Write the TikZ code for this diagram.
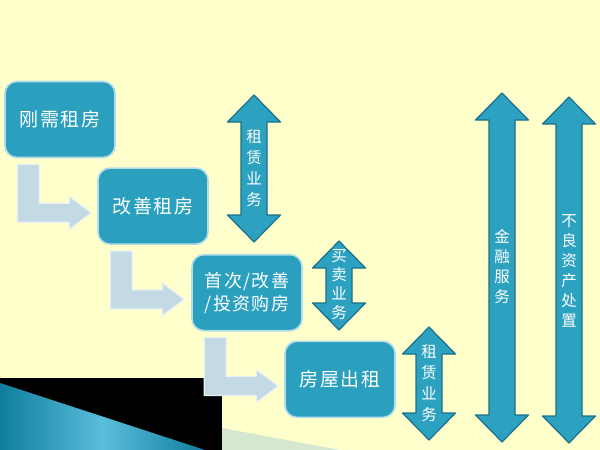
\documentclass[tikz,border=0pt]{standalone}
\usepackage{fontspec}
\setmainfont{Noto Sans CJK SC}
\newfontfamily\spacedcjk[LetterSpace=8]{Noto Sans CJK SC}
\usetikzlibrary{positioning,calc}
\definecolor{slidebg}{HTML}{FFFFCC}
\definecolor{boxteal}{HTML}{2AA0BE}
\definecolor{boxrim}{HTML}{B3DCEA}
\definecolor{bentfill}{HTML}{C3D9E3}
\definecolor{bentrim}{HTML}{E9F1F4}
\definecolor{dblfill}{HTML}{2CA2C0}
\definecolor{dblrim}{HTML}{1B708B}
\definecolor{wedgedark}{HTML}{0F7E9E}
\definecolor{wedgelight}{HTML}{5BBDDC}
\definecolor{stripgreen}{HTML}{D6E7D0}
\tikzset{
  stagebox/.style={
    draw=boxrim,
    line width=1.6pt,
    fill=boxteal,
    rounded corners=12pt,
    minimum width=110pt,
    minimum height=76pt,
    align=center,
    text=white,
    inner sep=2pt,
    font=\spacedcjk\fontsize{19}{24}\selectfont
  },
  bentarrow/.style={fill=bentfill, draw=bentrim, line width=1.2pt, line join=round},
  dblarrow/.style={fill=dblfill, draw=dblrim, line width=1.2pt, line join=round},
  dbllabel/.style={text=white, align=center, inner sep=0pt, font=\fontsize{15.5}{21}\selectfont}
}
% fat L-shaped step arrow hanging under a box
\newcommand{\bentstep}[1]{%
  \draw[bentarrow] ($(#1.south west)+(13,6)$) -- ++(22,0) -- ++(0,39) -- ++(30,0)
    -- ++(0,-7) -- ++(22,16.5) -- ++(-22,16.5) -- ++(0,-7) -- ++(-52,0) -- cycle;}
% vertical two-headed arrow: centre x, top, bottom
\newcommand{\twoway}[3]{%
  \draw[dblarrow] (#1,#2) -- (#1+26.5,#2+27) -- (#1+13,#2+27) -- (#1+13,#3-27)
    -- (#1+26.5,#3-27) -- (#1,#3) -- (#1-26.5,#3-27) -- (#1-13,#3-27)
    -- (#1-13,#2+27) -- (#1-26.5,#2+27) -- cycle;}

\begin{document}
\begin{tikzpicture}[x=1pt, y=-1pt, node distance=9pt]
\fill[slidebg] (0,0) rectangle (600,450);
\useasboundingbox (0,0) rectangle (600,450);

% slide corner decoration
\fill[black] (0,378) -- (222,378) -- (222,450) -- (0,450) -- cycle;
\shade[left color=wedgedark, right color=wedgedark, middle color=wedgelight] (0,383) -- (205,450) -- (0,450) -- cycle;
\fill[stripgreen] (222,428) -- (340,450) -- (222,450) -- cycle;

\node[stagebox] (rigid) at (60,119.5) {刚需租房};
\node[stagebox, below=of rigid, xshift=93pt] (better) {改善租房};
\node[stagebox, below=of better, xshift=94pt, font=\spacedcjk\fontsize{18}{23}\selectfont] (buy) {首次/改善\\/投资购房};
\node[stagebox, below=of buy, xshift=93pt] (letout) {房屋出租};

\bentstep{rigid}
\bentstep{better}
\bentstep{buy}

\twoway{254}{95}{242}
\twoway{339}{241}{330}
\twoway{429}{327}{440}
\twoway{502}{93}{442}
\twoway{569}{97}{443}

\node[dbllabel] (lease1) at (254,168.5) {租\\赁\\业\\务};
\node[dbllabel, font=\fontsize{15.5}{19}\selectfont] (trade) at (339,285) {买\\卖\\业\\务};
\node[dbllabel] (lease2) at (429,383.5) {租\\赁\\业\\务};
\node[dbllabel, font=\fontsize{15.5}{20}\selectfont] (finance) at (502,267) {金\\融\\服\\务};
\node[dbllabel, font=\fontsize{15.5}{20}\selectfont] (npa) at (569,271) {不\\良\\资\\产\\处\\置};
\end{tikzpicture}
\end{document}
